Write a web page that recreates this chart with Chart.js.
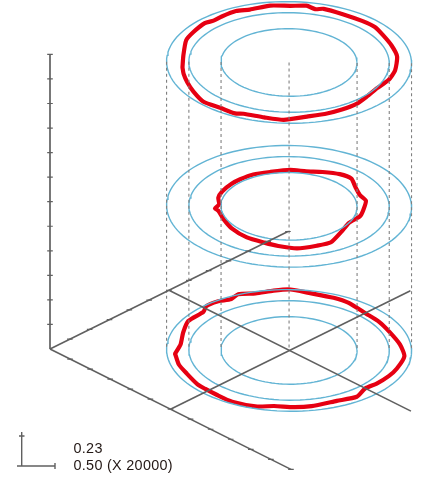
<!DOCTYPE html>
<html><head><meta charset="utf-8">
<style>html,body{margin:0;padding:0;background:#fff;overflow:hidden}canvas{display:block}</style>
<script src="https://cdn.jsdelivr.net/npm/chart.js@4"></script></head>
<body><canvas id="c" width="421" height="477" style="width:421px;height:477px"></canvas>
<script>
// Axis tick values (tick units)
const zTicks = [0,1,2,3,4,5,6,7,8,9,10,11,12];
const aTicks = [1,2,3,4,5,6,7,8,9,10,11,12];
const bTicks = [1,2,3,4,5,6,7,8,9,10,11,12];
// Reference levels and ring radii
const planeLevels = [0, 5.87, 11.73];
const ringRadii = [2.41, 3.55, 4.34];
const centerA = 5.99, centerB = 5.99;
// Measured contours: angle (deg) and radius (tick units)
const topAngles = [174,187,203,212,223,228,234,243,250,261,271,279,284,288,299,311,320,329,341,353,8,19,30,41,51,61,70,81,93,103,114,118,127,137,148,158,167];
const topRadii  = [3.80,3.77,3.95,3.99,4.06,3.97,4.02,4.09,4.00,4.10,4.04,4.11,3.93,4.04,3.97,3.97,3.99,3.89,3.85,3.86,3.79,3.72,3.59,3.64,3.77,3.82,3.86,3.90,4.10,4.03,4.03,4.14,4.09,4.17,4.01,3.90,3.84];
const midAngles = [176,183,193,204,218,228,241,255,271,284,296,308,318,329,342,351,5,15,29,44,60,71,85,98,109,124,142,158,172];
const midRadii  = [2.63,2.48,2.57,2.58,2.57,2.57,2.58,2.53,2.60,2.58,2.74,2.94,2.99,2.75,2.65,2.76,2.64,2.60,2.41,2.57,2.94,2.96,3.01,2.86,2.75,2.70,2.59,2.51,2.53];
const lowAngles = [176,186,198,210,222,227,234,241,246,254,263,271,280,293,302,316,327,339,353,5,18,27,37,45,54,65,79,88,98,106,119,129,137,143,155,165];
const lowRadii  = [4.05,3.86,3.94,4.11,4.06,4.27,4.28,4.17,4.37,4.22,4.29,4.35,4.18,4.10,4.03,3.82,3.82,3.82,3.96,4.10,4.01,3.95,3.87,3.79,4.05,3.95,4.04,4.05,4.01,4.18,4.21,4.11,4.08,4.08,4.01,4.05];
// Scale key
const keyLabels = ['0.23','0.50 (X 20000)'];

const GRAY='#606060', BLUE='#62b4d4', RED='#e60012', DASH='#808080';
// Oblique projection of (a, b, z) onto the flat plot plane
function P(a,b,z){return {x:50+a*20.08+b*19.83, y:349+a*10.03-b*9.79-z*24.55};}
function onRing(r,deg,z){
  const t=deg*Math.PI/180, s=Math.SQRT1_2;
  return P(centerA+r*(Math.cos(t)+Math.sin(t))*s, centerB+r*(Math.cos(t)-Math.sin(t))*s, z);
}
const gap={x:null,y:null};
function line(data,color,width,extra){
  return Object.assign({data,borderColor:color,borderWidth:width,pointRadius:0,showLine:true,fill:false,tension:0,spanGaps:false,borderCapStyle:'butt'},extra||{});
}
function stubs(pts,half){
  const out=[];pts.forEach(p=>{out.push({x:p.x-half,y:p.y},{x:p.x+half,y:p.y},gap);});return out;
}
const ds=[];
// axes
ds.push(line([P(0,0,0),P(0,0,12)],GRAY,1.7));
ds.push(line([P(0,0,0),P(12,0,0)],GRAY,1.6));
ds.push(line([P(0,0,0),P(0,12,0)],GRAY,1.6));
ds.push(line([P(0,6,0),P(12.05,6,0)],GRAY,1.6));
ds.push(line([P(6,0,0),P(6,12.1,0)],GRAY,1.6));
ds.push(line(stubs(zTicks.slice(1).map(z=>P(0,0,z)),2.8),GRAY,1.2));
ds.push(line(stubs(aTicks.map(a=>P(a,0,0)),2.8),GRAY,1.2));
ds.push(line(stubs(bTicks.map(b=>P(0,b,0)),2.8),GRAY,1.2));
// dashed verticals
const dashPts=[];
ringRadii.forEach(r=>{[0,180].forEach(d=>{dashPts.push(onRing(r,d,planeLevels[2]),onRing(r,d,planeLevels[0]),gap);});});
dashPts.push(onRing(0,0,planeLevels[2]),onRing(0,0,planeLevels[0]),gap);
ds.push(line(dashPts,DASH,1.1,{borderDash:[3,3]}));
// rings
const sweep=[];for(let d=0;d<=360;d+=3)sweep.push(d);
planeLevels.forEach(z=>ringRadii.forEach(r=>{
  ds.push(line(sweep.map(d=>onRing(r,d,z)),BLUE,1.4));
}));
// contours
[[lowAngles,lowRadii,0],[midAngles,midRadii,1],[topAngles,topRadii,2]].forEach(([an,ra,i])=>{
  const pts=an.map((d,k)=>onRing(ra[k],d,planeLevels[i]));pts.push(pts[0]);
  ds.push(line(pts,RED,4.2,{tension:0.2,borderJoinStyle:'round',borderCapStyle:'round'}));
});
// scale key
ds.push(line([{x:21.7,y:432},{x:21.7,y:466},gap,{x:17,y:466},{x:55,y:466},gap,{x:19,y:436},{x:24.5,y:436},gap,{x:55,y:463},{x:55,y:469}],GRAY,1.4));

const keyText={id:'keyText',afterDatasetsDraw(c){
  const g=c.ctx,sx=c.scales.x,sy=c.scales.y;
  g.save();g.fillStyle='#231815';g.font='14.4px "Liberation Sans"';g.textBaseline='alphabetic';
  g.letterSpacing='0.3px';
  g.fillText(keyLabels[0],sx.getPixelForValue(73.5),sy.getPixelForValue(452.5));
  g.fillText(keyLabels[1],sx.getPixelForValue(73.5),sy.getPixelForValue(470));
  g.restore();
}};
new Chart(document.getElementById('c'),{
  type:'scatter',
  data:{datasets:ds},
  options:{responsive:false,animation:false,devicePixelRatio:1,
    layout:{padding:0},
    plugins:{legend:{display:false},tooltip:{enabled:false},title:{display:false}},
    scales:{x:{type:'linear',display:false,min:0,max:421},y:{type:'linear',display:false,min:0,max:477,reverse:true}}
  },
  plugins:[keyText]
});
</script></body></html>
